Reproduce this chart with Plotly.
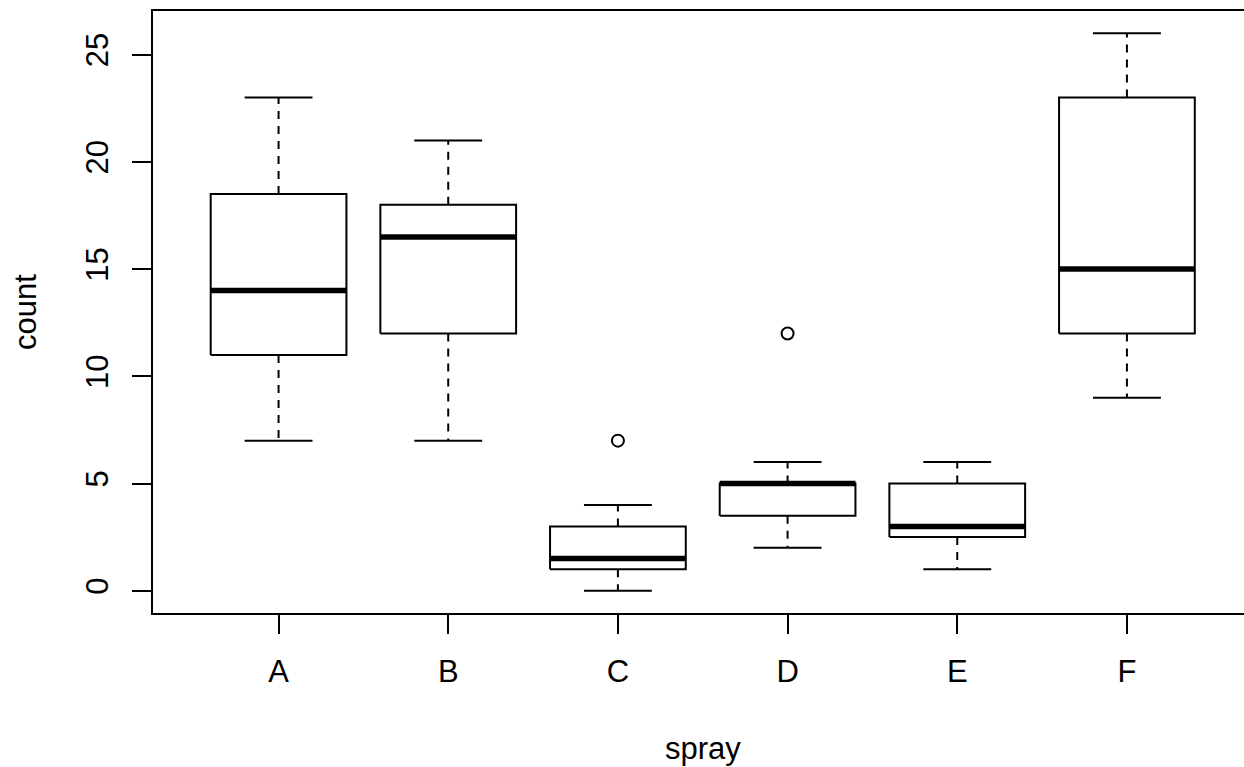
import plotly.graph_objects as go

categories = ["A", "B", "C", "D", "E", "F"]
lower_whisker = [7, 7, 0, 2, 1, 9]
q1 = [11, 12, 1, 3.5, 2.5, 12]
median = [14, 16.5, 1.5, 5, 3, 15]
q3 = [18.5, 18, 3, 5, 5, 23]
upper_whisker = [23, 21, 4, 6, 6, 26]
outlier_cat = ["C", "D"]
outlier_val = [7, 12]
y_ticks = [0, 5, 10, 15, 20, 25]

pos = {c: i + 1 for i, c in enumerate(categories)}
HALF = 0.4   # half box width
CAP = 0.2    # half staple width

box_x, box_y = [], []
med_x, med_y = [], []
wh_x, wh_y = [], []
cap_x, cap_y = [], []
for c, lo, a, m, b, hi in zip(categories, lower_whisker, q1, median, q3, upper_whisker):
    p = pos[c]
    box_x += [p - HALF, p + HALF, p + HALF, p - HALF, p - HALF, None]
    box_y += [a, a, b, b, a, None]
    med_x += [p - HALF, p + HALF, None]
    med_y += [m, m, None]
    wh_x += [p, p, None, p, p, None]
    wh_y += [b, hi, None, a, lo, None]
    cap_x += [p - CAP, p + CAP, None, p - CAP, p + CAP, None]
    cap_y += [hi, hi, None, lo, lo, None]

fig = go.Figure()
fig.add_trace(go.Scatter(x=wh_x, y=wh_y, mode="lines",
                         line=dict(color="black", width=2, dash="8px,7px"),
                         hoverinfo="skip"))
fig.add_trace(go.Scatter(x=cap_x, y=cap_y, mode="lines",
                         line=dict(color="black", width=2), hoverinfo="skip"))
fig.add_trace(go.Scatter(x=box_x, y=box_y, mode="lines",
                         line=dict(color="black", width=2), hoverinfo="skip"))
fig.add_trace(go.Scatter(x=med_x, y=med_y, mode="lines",
                         line=dict(color="black", width=5.5), hoverinfo="skip"))
fig.add_trace(go.Scatter(x=[pos[c] for c in outlier_cat], y=outlier_val, mode="markers",
                         marker=dict(symbol="circle-open", size=12, color="black",
                                     line=dict(width=2, color="black"))))

font = dict(family="Liberation Sans, Arial, sans-serif", size=31, color="black")

fig.update_layout(
    width=1244, height=767,
    margin=dict(l=153, r=0, t=11, b=154),
    paper_bgcolor="white", plot_bgcolor="white",
    showlegend=False,
    font=font,
    xaxis=dict(range=[0.26, 6.69], tickvals=[pos[c] for c in categories], ticktext=categories,
               showgrid=False, zeroline=False, showline=True, mirror=True,
               linecolor="black", linewidth=2, ticks="outside", ticklen=19, tickwidth=2,
               tickcolor="black", tickfont=font, ticklabelstandoff=11),
    yaxis=dict(range=[-1.04, 27.04], tickvals=y_ticks, showgrid=False, zeroline=False,
               showline=True, linecolor="black", linewidth=2, ticks="outside",
               ticklen=19, tickwidth=2, tickcolor="black", tickangle=-90, tickfont=font,
               ticklabelstandoff=12),
    annotations=[
        dict(text="count", xref="paper", yref="paper", x=-0.1173, y=0.5, showarrow=False,
             textangle=-90, font=font, xanchor="center", yanchor="middle"),
        dict(text="spray", xref="paper", yref="paper", x=0.5037, y=-0.2243, showarrow=False,
             font=font, xanchor="center", yanchor="middle"),
    ],
)

fig.write_html("out.html", config={"displayModeBar": False},
               post_script="document.body.style.margin='0';document.body.style.overflow='hidden';")
